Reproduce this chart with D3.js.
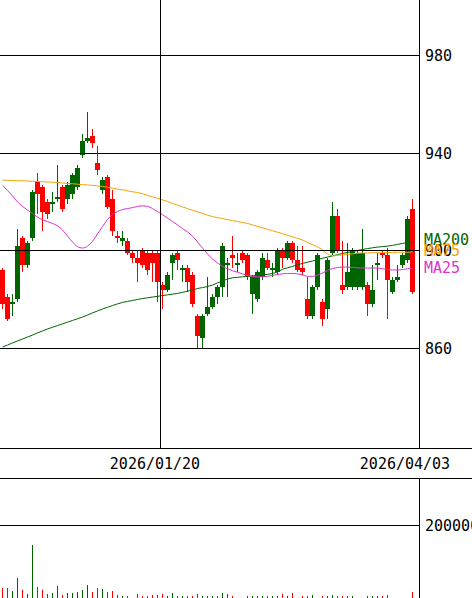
<!DOCTYPE html>
<html>
<head>
<meta charset="utf-8">
<script src="https://cdn.jsdelivr.net/npm/d3@7"></script>
<style>
  html, body { margin: 0; padding: 0; background: #fff; }
  svg { display: block; }
  text { font-family: "DejaVu Sans Mono", monospace; font-size: 15px; }
</style>
</head>
<body>
<svg id="chart" width="472" height="598"></svg>
<script>
// Daily sessions, 2025/12/01 - 2026/04/03
const dates = [
  "2025/12/01","2025/12/02","2025/12/03","2025/12/04","2025/12/05","2025/12/08","2025/12/09","2025/12/10","2025/12/11","2025/12/12",
  "2025/12/15","2025/12/16","2025/12/17","2025/12/18","2025/12/19","2025/12/22","2025/12/23","2025/12/24","2025/12/25","2025/12/26",
  "2025/12/29","2025/12/30","2026/01/05","2026/01/06","2026/01/07","2026/01/08","2026/01/09","2026/01/13","2026/01/14","2026/01/15",
  "2026/01/16","2026/01/19","2026/01/20","2026/01/21","2026/01/22","2026/01/23","2026/01/26","2026/01/27","2026/01/28","2026/01/29",
  "2026/01/30","2026/02/02","2026/02/03","2026/02/04","2026/02/05","2026/02/06","2026/02/09","2026/02/10","2026/02/12","2026/02/13",
  "2026/02/16","2026/02/17","2026/02/18","2026/02/19","2026/02/20","2026/02/24","2026/02/25","2026/02/26","2026/02/27","2026/03/02",
  "2026/03/03","2026/03/04","2026/03/05","2026/03/06","2026/03/09","2026/03/10","2026/03/11","2026/03/12","2026/03/13","2026/03/16",
  "2026/03/17","2026/03/18","2026/03/19","2026/03/23","2026/03/24","2026/03/25","2026/03/26","2026/03/27","2026/03/30","2026/03/31",
  "2026/04/01","2026/04/02","2026/04/03"
];

const open = [
  892,881,878,880,905,894,905,928,926,920, 919,921,926,921,923,926,939,945,947,936,
  925,930,921,906,904,904,899,897,900,899, 899,899,886,884,895,899,892,893,890,873,
  864,874,877,881,885,894,898,894,899,898, 882,880,889,896,892,891,900,897,903,896,
  893,880,873,885,879,876,899,914,886,885, 885,885,885,886,878,894,899,898,883,888,
  894,896,917
];
const high = [
  893,882,882,909,906,904,925,932,927,921, 924,935,927,928,932,935,948,957,950,943,
  930,931,925,908,908,905,900,900,901,900, 900,900,887,891,899,900,894,894,891,874,
  874,889,882,886,903,897,906,899,900,899, 890,892,899,899,895,901,901,904,904,902,
  902,889,886,899,880,897,920,917,904,903, 901,900,909,887,894,899,900,901,889,894,
  899,914,921
];
const low = [
  876,871,873,879,891,893,904,915,908,913, 916,920,916,919,921,925,938,944,942,931,
  923,917,906,903,902,898,895,887,893,890, 887,879,876,883,888,892,887,883,877,860,
  860,873,876,878,881,881,893,891,895,888, 874,879,888,892,889,890,893,896,895,891,
  890,872,872,884,869,872,898,899,882,884, 884,884,884,873,877,888,897,872,882,887,
  893,895,882
];
const close = [
  878,872,879,902,894,903,924,923,916,915, 920,922,917,927,931,934,945,946,944,933,
  929,918,908,905,905,899,897,895,894,892, 895,887,884,890,898,896,893,887,878,865,
  873,877,881,885,902,895,897,895,896,889, 889,891,897,893,893,900,897,903,896,892,
  891,873,885,898,872,896,914,900,884,891, 900,899,899,878,884,895,898,888,888,889,
  898,913,883
];
const volume = [
  32000,32000,24000,58700,26700,16000,146700,34700,26700,16000,
  18700,37300,13300,18700,18700,21300,26700,40000,21300,32000,
  29300,21300,24000,13300,10700,10700,4000,16000,10700,10700,
  13300,13300,16000,10700,18700,10700,10700,10700,10700,16000,
  10700,10700,10700,10700,20000,16000,10700,5000,4500,10700,
  10700,10700,10700,10700,10700,10700,16000,10700,18700,5000,
  10700,10700,13300,5000,10700,10700,13300,10700,10700,10700,
  10700,5000,5000,10700,10700,10700,10700,13300,5000,5000,
  5000,5000,21300
];

// Moving averages (25 / 75 / 200 sessions)
const ma25 = [
  926.7,924.6,922.4,919.9,918.1,916.6,915.2,913.7,912.6,911.9,
  911.1,910.1,908.4,905.9,903.5,901.6,901.0,901.8,903.7,906.8,
  909.8,912.7,914.8,916.0,916.8,917.2,917.6,918.1,918.3,918.1,
  917.2,916.0,914.7,913.3,911.9,910.5,909.0,907.6,905.9,903.5,
  901.0,898.6,896.5,894.9,893.5,892.5,891.7,891.1,890.4,889.8,
  889.4,889.2,889.2,889.4,889.8,890.2,890.4,890.6,890.6,890.4,
  890.0,889.4,889.4,889.9,890.8,891.8,892.6,893.0,893.2,893.2,
  893.1,892.9,892.8,892.8,892.8,892.8,892.5,892.2,892.0,892.0,
  892.2,892.5,892.7
];
const ma75 = [
  928.9,928.8,928.7,928.6,928.6,928.5,928.4,928.3,928.2,928.1,
  928.0,927.9,927.7,927.5,927.4,927.2,927.0,926.9,926.7,926.5,
  926.3,925.9,925.6,925.2,924.9,924.5,924.1,923.8,923.3,922.6,
  922.0,921.4,920.8,920.1,919.3,918.6,917.9,917.2,916.5,915.9,
  915.2,914.5,913.9,913.5,913.1,912.7,912.3,911.9,911.5,911.1,
  910.5,909.9,909.3,908.7,908.1,907.5,906.9,906.2,905.6,905.0,
  904.3,903.3,902.4,901.5,900.2,898.6,897.8,898.0,898.2,898.4,
  898.6,898.9,899.0,899.0,899.1,899.1,899.1,899.2,899.2,899.3,
  899.3,899.3,899.4
];
const ma200 = [
  860.4,861.2,862.1,862.9,863.7,864.5,865.3,866.2,867.0,867.8,
  868.5,869.2,869.9,870.6,871.3,872.0,872.7,873.5,874.4,875.2,
  876.0,876.7,877.4,878.1,878.7,879.1,879.5,879.9,880.3,880.6,
  880.9,881.2,881.5,881.8,882.1,882.4,882.8,883.3,883.8,884.4,
  884.8,885.2,885.8,886.7,887.5,888.3,888.8,889.0,889.2,889.4,
  889.6,889.8,890.0,890.2,890.6,891.2,892.3,892.9,893.5,894.1,
  894.7,895.2,895.7,896.3,896.8,897.3,897.8,898.3,898.8,899.2,
  899.6,900.0,900.4,900.8,901.1,901.4,901.6,901.8,902.1,902.5,
  902.9,903.3,903.6
];

const priceTicks = [860, 900, 940, 980];
const volumeTicks = [200000];
const dateTicks = ["2026/01/20", "2026/04/03"];
const dividerDates = ["2026/01/20"];

const UP = "#006400", DOWN = "#ff0000";
const maSeries = [
  { name: "MA200", values: ma200, color: "#006400", labelY: 245 },
  { name: "MA75",  values: ma75,  color: "#f5a300", labelY: 256 },
  { name: "MA25",  values: ma25,  color: "#dd33cc", labelY: 273 }
];

const svg = d3.select("#chart");
const plotRight = 419;
const priceBottom = 448;
const dateBottom = 478;

const x = d3.scaleBand().domain(dates).range([0, 415]).padding(0);
const bw = x.bandwidth();
const y = d3.scaleLinear().domain([860, 980]).range([348, 55.5]);
const yv = d3.scaleLinear().domain([0, 200000]).range([600, 525]);

const rows = dates.map((d, i) => ({
  date: d, o: open[i], h: high[i], l: low[i], c: close[i], v: volume[i],
  up: close[i] >= open[i]
}));

svg.append("rect").attr("width", 472).attr("height", 598).attr("fill", "#fff");

const defs = svg.append("defs");
defs.append("clipPath").attr("id", "priceClip")
  .append("rect").attr("x", 0).attr("y", 0).attr("width", plotRight).attr("height", priceBottom);
defs.append("clipPath").attr("id", "volClip")
  .append("rect").attr("x", 0).attr("y", dateBottom + 1).attr("width", plotRight).attr("height", 598 - dateBottom);

// candles
const candles = svg.append("g").attr("clip-path", "url(#priceClip)").attr("shape-rendering", "crispEdges");
const cg = candles.selectAll("g.candle").data(rows).join("g").attr("class", "candle");
cg.append("rect")
  .attr("x", d => x(d.date) + Math.floor(bw / 2))
  .attr("width", 1)
  .attr("y", d => Math.round(y(d.h)))
  .attr("height", d => Math.max(1, Math.round(y(d.l)) - Math.round(y(d.h))))
  .attr("fill", d => d.up ? UP : DOWN);
cg.append("rect")
  .attr("x", d => x(d.date))
  .attr("width", bw)
  .attr("y", d => Math.round(y(Math.max(d.o, d.c))))
  .attr("height", d => Math.max(1, Math.round(y(Math.min(d.o, d.c))) - Math.round(y(Math.max(d.o, d.c)))))
  .attr("fill", d => d.up ? UP : DOWN);

// moving average lines
const maG = svg.append("g").attr("clip-path", "url(#priceClip)");
maSeries.forEach(s => {
  const line = d3.line()
    .x((v, i) => x(dates[i]) + bw / 2)
    .y(v => y(v))
    .curve(d3.curveMonotoneX);
  maG.append("path").attr("d", line(s.values))
    .attr("fill", "none").attr("stroke", s.color).attr("stroke-width", 1);
});

// volume bars
const vg = svg.append("g").attr("clip-path", "url(#volClip)").attr("shape-rendering", "crispEdges");
vg.selectAll("rect").data(rows).join("rect")
  .attr("x", d => x(d.date) + Math.floor(bw / 2))
  .attr("width", 1)
  .attr("y", d => Math.round(yv(d.v)))
  .attr("height", d => yv(0) - Math.round(yv(d.v)))
  .attr("fill", d => d.up ? UP : DOWN);

// grid and frame
const grid = svg.append("g").attr("stroke", "#000").attr("stroke-width", 1).attr("shape-rendering", "crispEdges");
priceTicks.forEach(t => {
  const gy = Math.floor(y(t)) + 0.5;
  grid.append("line").attr("x1", 0).attr("x2", plotRight).attr("y1", gy).attr("y2", gy);
});
volumeTicks.forEach(t => {
  const gy = Math.floor(yv(t)) + 0.5;
  grid.append("line").attr("x1", 0).attr("x2", plotRight).attr("y1", gy).attr("y2", gy);
});
dividerDates.forEach(d => {
  const gx = x(d) + 0.5;
  grid.append("line").attr("x1", gx).attr("x2", gx).attr("y1", 0).attr("y2", priceBottom);
});
grid.append("line").attr("x1", plotRight + 0.5).attr("x2", plotRight + 0.5).attr("y1", 0).attr("y2", priceBottom);
grid.append("line").attr("x1", plotRight + 0.5).attr("x2", plotRight + 0.5).attr("y1", dateBottom).attr("y2", 598);
grid.append("line").attr("x1", 0).attr("x2", 472).attr("y1", priceBottom + 0.5).attr("y2", priceBottom + 0.5);
grid.append("line").attr("x1", 0).attr("x2", 472).attr("y1", dateBottom + 0.5).attr("y2", dateBottom + 0.5);

// axis labels
const labels = svg.append("g");
priceTicks.forEach(t => {
  labels.append("text").attr("x", 425).attr("y", Math.floor(y(t)) + 5.5)
    .attr("fill", "#000").text(d3.format("d")(t));
});
volumeTicks.forEach(t => {
  labels.append("text").attr("x", 425).attr("y", Math.floor(yv(t)) + 5.5)
    .attr("fill", "#000").text(d3.format("d")(t));
});
dateTicks.forEach(d => {
  labels.append("text").attr("x", x(d) + bw / 2 - 7.5).attr("y", 469)
    .attr("text-anchor", "middle").attr("fill", "#000").text(d);
});
maSeries.forEach(s => {
  labels.append("text").attr("x", 424).attr("y", s.labelY)
    .attr("fill", s.color).text(s.name);
});
</script>
</body>
</html>
